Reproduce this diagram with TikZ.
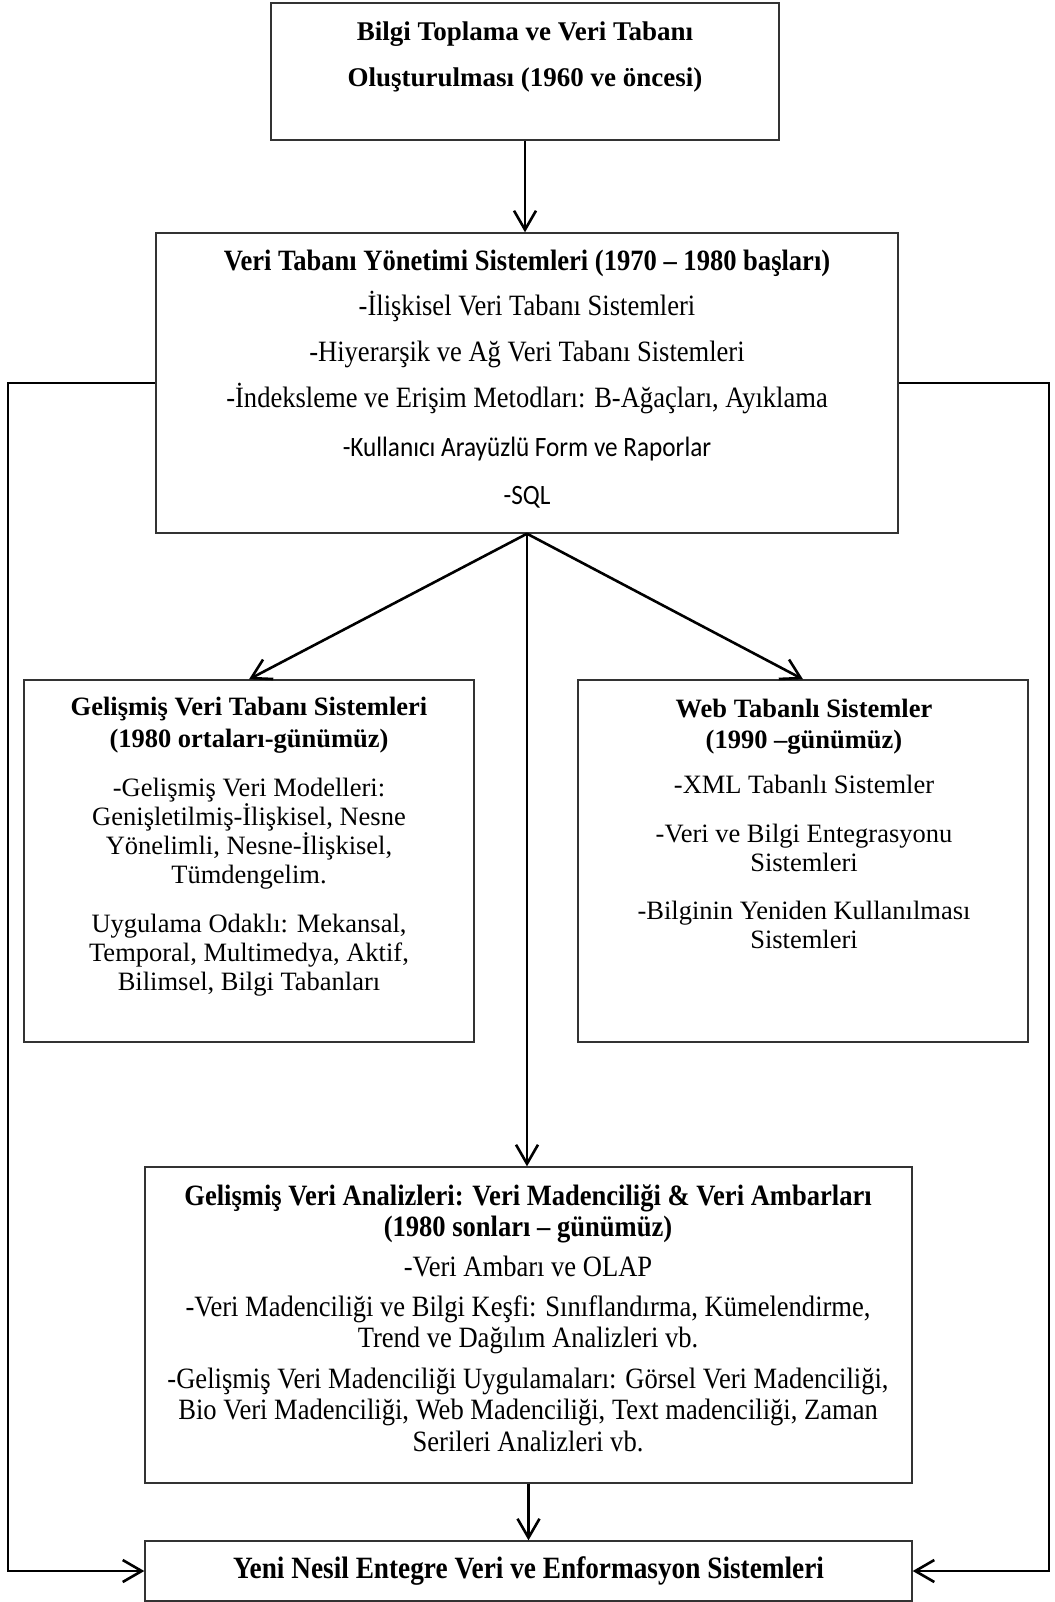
\documentclass[tikz,border=0pt]{standalone}
\usepackage{fontspec}
\setmainfont{Liberation Serif}
\newfontfamily\condserif{Liberation Serif}[FakeStretch=0.9]
\newfontfamily\condsans{Carlito}[FakeStretch=0.9]
\newfontfamily\narrowserif{Liberation Serif}[FakeStretch=0.88]
\usetikzlibrary{arrows.meta}

\begin{document}
\begin{tikzpicture}[x=1pt,y=-1pt,
  box/.style={draw=black!80, line width=1.4pt, inner sep=0pt},
  conn/.style={line width=2.6pt, -{Straight Barb[length=19pt,width=22pt]}},
  txt/.style={inner sep=0pt, align=center}]
\useasboundingbox (0,0) rectangle (1054,1602);

% boxes
\node[box, minimum width=508pt, minimum height=137pt] (collect) at (525,71.5) {};
\node[box, minimum width=742pt, minimum height=300pt] (dbms) at (527,383) {};
\node[box, minimum width=450pt, minimum height=362pt] (advdb) at (249,861) {};
\node[box, minimum width=450pt, minimum height=362pt] (web) at (803,861) {};
\node[box, minimum width=767pt, minimum height=316pt] (analysis) at (528.5,1325) {};
\node[box, minimum width=767pt, minimum height=60pt] (final) at (528.5,1571) {};

% box texts
\node[txt, font=\bfseries\fontsize{27}{46}\selectfont] (collecttxt) at (525,57)
  {Bilgi Toplama ve Veri Tabanı\\Oluşturulması (1960 ve öncesi)};

\node[txt, font=\condserif\fontsize{29.5}{46}\selectfont] (dbmstxt) at (527,379)
  {\textbf{Veri Tabanı Yönetimi Sistemleri (1970 – 1980 başları)}\\[-1pt]
   -İlişkisel Veri Tabanı Sistemleri\\
   -Hiyerarşik ve Ağ Veri Tabanı Sistemleri\\
   -İndeksleme ve Erişim Metodları: B-Ağaçları, Ayıklama\\[3pt]
   {\condsans\fontsize{28}{46}\selectfont -Kullanıcı Arayüzlü Form ve Raporlar}\\[2pt]
   {\condsans\fontsize{28}{46}\selectfont -SQL}};

\node[txt, font=\fontsize{26.5}{29}\selectfont] (advdbtxt) at (249,847)
  {\textbf{Gelişmiş Veri Tabanı Sistemleri}\\[3pt]
   \textbf{(1980 ortaları-günümüz)}\\[20pt]
   -Gelişmiş Veri Modelleri:\\
   Genişletilmiş-İlişkisel, Nesne\\
   Yönelimli, Nesne-İlişkisel,\\
   Tümdengelim.\\[20pt]
   Uygulama Odaklı: Mekansal,\\
   Temporal, Multimedya, Aktif,\\
   Bilimsel, Bilgi Tabanları};

\node[txt, font=\fontsize{26.5}{29}\selectfont] (webtxt) at (804,824)
  {\textbf{Web Tabanlı Sistemler}\\[2pt]
   \textbf{(1990 –günümüz)}\\[16pt]
   -XML Tabanlı Sistemler\\[20pt]
   -Veri ve Bilgi Entegrasyonu\\
   Sistemleri\\[19pt]
   -Bilginin Yeniden Kullanılması\\
   Sistemleri};

\node[txt, font=\condserif\fontsize{29.5}{31.3}\selectfont] (analysistxt) at (528,1318)
  {\textbf{Gelişmiş Veri Analizleri: Veri Madenciliği \& Veri Ambarları}\\
   \textbf{(1980 sonları – günümüz)}\\[9pt]
   -Veri Ambarı ve OLAP\\[8pt]
   -Veri Madenciliği ve Bilgi Keşfi: Sınıflandırma, Kümelendirme,\\
   Trend ve Dağılım Analizleri vb.\\[10pt]
   -Gelişmiş Veri Madenciliği Uygulamaları: Görsel Veri Madenciliği,\\
   Bio Veri Madenciliği, Web Madenciliği, Text madenciliği, Zaman\\
   Serileri Analizleri vb.};

\node[txt, font=\narrowserif\bfseries\fontsize{31}{31}\selectfont] (finaltxt) at (528.5,1571)
  {Yeni Nesil Entegre Veri ve Enformasyon Sistemleri};

% connectors
\coordinate (lrail) at (8,383);
\coordinate (rrail) at (1049,383);
\draw[conn] (collect.south) -- (collect.south |- dbms.north);
\draw[conn] (dbms.south) -- (advdb.north);
\draw[conn] (dbms.south) -- (web.north);
\draw[conn] (dbms.south) -- (dbms.south |- analysis.north);
\draw[conn] (analysis.south) -- (analysis.south |- final.north);
\draw[conn] (dbms.west) -- (lrail) |- (final.west);
\draw[conn] (dbms.east) -- (rrail) |- (final.east);
\end{tikzpicture}
\end{document}
